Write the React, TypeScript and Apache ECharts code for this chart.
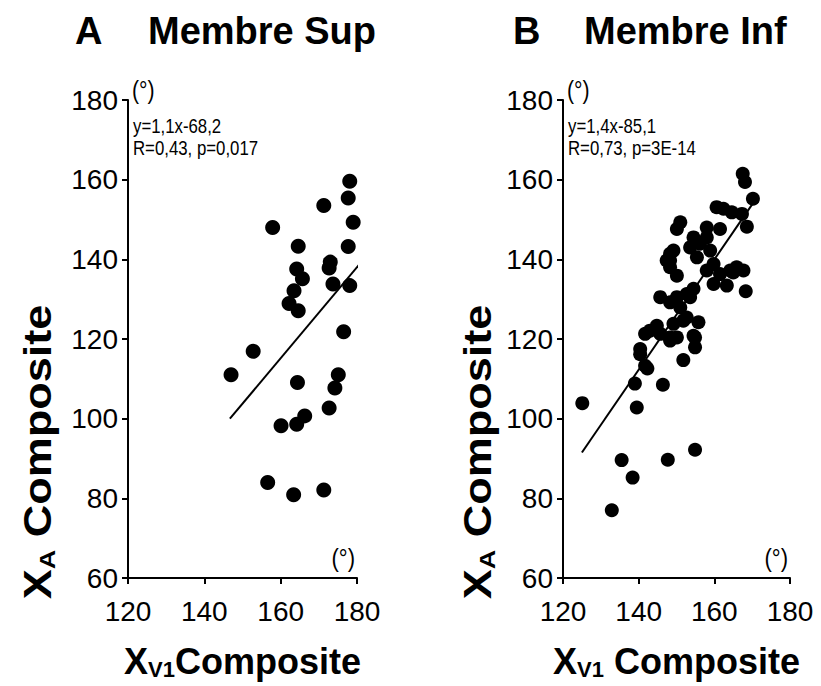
import React, { useEffect, useRef } from "react";
import * as echarts from "echarts";

// ---- data ----
const xTickValues = [120, 140, 160, 180];
const yTickValues = [60, 80, 100, 120, 140, 160, 180];

const supPoints: [number, number][] = [
  [147.0, 111.0], [152.8, 116.9], [156.6, 84.0], [163.4, 80.9], [171.3, 82.1],
  [160.1, 98.2], [164.2, 98.6], [166.3, 100.7], [172.7, 102.7], [174.2, 107.7],
  [175.1, 111.0], [164.4, 109.1], [178.1, 159.6], [177.7, 155.4], [171.3, 153.5],
  [179.0, 149.3], [157.9, 148.0], [164.6, 143.3], [177.7, 143.2], [173.0, 139.3],
  [172.7, 137.8], [164.2, 137.6], [165.7, 135.1], [173.7, 133.8], [178.1, 133.4],
  [163.5, 132.1], [162.2, 128.9], [164.6, 127.1], [176.5, 121.8],
];
const supFit: [number, number][] = [[146.7, 100.0], [182.0, 140.3]];

const infPoints: [number, number][] = [
  [125.1, 103.9], [135.5, 89.6], [138.4, 85.2], [132.9, 77.0], [147.7, 89.7],
  [154.9, 92.2], [139.5, 102.8], [139.0, 108.8], [146.4, 108.5], [140.4, 116.2],
  [141.7, 113.3], [142.3, 112.6], [151.8, 114.7], [154.9, 120.4], [154.9, 117.9],
  [148.3, 119.6], [141.7, 121.3],
  [167.5, 161.5], [168.1, 159.4], [170.2, 155.2], [162.4, 152.7], [164.6, 151.8],
  [167.3, 151.4], [160.6, 153.1], [168.6, 148.2], [151.0, 149.3], [150.1, 147.6],
  [158.0, 148.0], [161.5, 147.6], [154.5, 145.5], [156.2, 143.9], [153.6, 143.0],
  [149.2, 142.2], [158.9, 142.2], [155.4, 140.5], [148.3, 139.7], [159.8, 138.8],
  [150.1, 135.9], [164.2, 137.2], [167.7, 137.2], [161.5, 136.3], [159.8, 133.8],
  [163.3, 133.4], [168.3, 132.0], [154.5, 132.6], [152.7, 131.3], [145.7, 130.5],
  [148.3, 129.2], [150.1, 130.5], [151.0, 127.9], [143.0, 122.1], [145.7, 121.3],
  [149.2, 123.8], [151.8, 124.6], [155.8, 124.2], [150.1, 120.4], [154.5, 120.8],
  [140.4, 117.5], [148.3, 141.4], [147.4, 139.7], [158.0, 145.5], [165.9, 138.0],
  [165.0, 136.7], [158.0, 137.2], [148.3, 138.0], [153.6, 130.5], [152.7, 125.4],
  [144.8, 123.3], [148.3, 120.4],
];
const infFit: [number, number][] = [[125.0, 91.5], [170.5, 154.5]];

const panelTitles = ["A", "B"];
const panelNames = ["Membre Sup", "Membre Inf"];
const equations = ["y=1,1x-68,2", "y=1,4x-85,1"];
const stats = ["R=0,43, p=0,017", "R=0,73, p=3E-14"];
const unitLabel = "(°)";

const SANS = "'Liberation Sans', Arial, sans-serif";

const grids = [
  { left: 128, top: 100, width: 229, height: 478 },
  { left: 563, top: 100, width: 227, height: 478 },
];

function axisCommon() {
  return {
    axisLine: { show: true, lineStyle: { color: "#000", width: 2 } },
    axisTick: { show: true, length: 6, lineStyle: { color: "#000", width: 2 } },
    splitLine: { show: false },
  };
}

export default function App() {
  const ref = useRef<HTMLDivElement>(null);
  useEffect(() => {
    if (!ref.current) return;
    const chart = echarts.init(ref.current, null, { renderer: "svg" });

    const xNames = [
      "{b|X}{s|V1}{b|Composite}",
      "{b|X}{s|V1}{b| Composite}",
    ];
    const nameRich = {
      b: { fontSize: 36, fontWeight: "bold", fontFamily: SANS, color: "#000" },
      s: { fontSize: 22, fontWeight: "bold", fontFamily: SANS, color: "#000", padding: [16, 0, 0, 0] },
    };

    const xAxes = grids.map((_, i) => ({
      type: "value",
      gridIndex: i,
      min: 120,
      max: 180,
      interval: 20,
      ...axisCommon(),
      axisLabel: {
        fontSize: 28,
        fontFamily: SANS,
        color: "#000",
        margin: 19,
        customValues: xTickValues,
      },
      name: xNames[i],
      nameLocation: "middle",
      nameGap: 64,
      nameTextStyle: { rich: nameRich },
    }));

    const yAxes = grids.map((_, i) => ({
      type: "value",
      gridIndex: i,
      min: 60,
      max: 180,
      interval: 20,
      ...axisCommon(),
      axisLabel: {
        fontSize: 28,
        fontFamily: SANS,
        color: "#000",
        margin: 10,
        customValues: yTickValues,
      },
    }));

    const graphics: any[] = [];
    const titleX = [[75, 148], [513, 584]];
    const yNameX = [38, 478];
    grids.forEach((g, i) => {
      graphics.push({
        type: "text",
        left: titleX[i][0],
        top: 12,
        style: { text: panelTitles[i], font: `bold 38px ${SANS}`, fill: "#000" },
      });
      graphics.push({
        type: "text",
        left: titleX[i][1],
        top: 12,
        style: { text: panelNames[i], font: `bold 38px ${SANS}`, fill: "#000" },
      });
      graphics.push({
        type: "text",
        x: g.left + 4,
        y: 90,
        scaleX: 0.85,
        style: { text: unitLabel, font: `25px ${SANS}`, fill: "#000", align: "left", verticalAlign: "middle" },
      });
      graphics.push({
        type: "text",
        x: g.left + g.width - 2,
        y: 558,
        scaleX: 0.85,
        style: { text: unitLabel, font: `26px ${SANS}`, fill: "#000", align: "right", verticalAlign: "middle" },
      });
      graphics.push({
        type: "text",
        x: g.left + 5,
        y: 126,
        scaleX: 0.8,
        style: { text: equations[i], font: `21px ${SANS}`, fill: "#000", align: "left", verticalAlign: "middle" },
      });
      graphics.push({
        type: "text",
        x: g.left + 5,
        y: 148,
        scaleX: 0.8,
        style: { text: stats[i], font: `21px ${SANS}`, fill: "#000", align: "left", verticalAlign: "middle" },
      });
      graphics.push({
        type: "text",
        x: yNameX[i],
        y: 452,
        rotation: Math.PI / 2,
        scaleY: 0.85,
        style: {
          text: "{b|X}{s|A}{b| Composite}",
          rich: {
            b: { fontSize: 45, fontWeight: "bold", fontFamily: SANS, fill: "#000" },
            s: { fontSize: 27, fontWeight: "bold", fontFamily: SANS, fill: "#000", padding: [20, 0, 0, 0] },
          },
          align: "center",
          verticalAlign: "middle",
        },
      });
    });

    const scatterStyle = { color: "#000", opacity: 1 };
    chart.setOption({
      animation: false,
      backgroundColor: "#fff",
      grid: grids.map((g) => ({ ...g, containLabel: false })),
      xAxis: xAxes,
      yAxis: yAxes,
      series: [
        {
          type: "scatter",
          xAxisIndex: 0,
          yAxisIndex: 0,
          data: supPoints,
          symbolSize: 15,
          itemStyle: scatterStyle,
        },
        {
          type: "line",
          xAxisIndex: 0,
          yAxisIndex: 0,
          data: supFit,
          showSymbol: false,
          clip: false,
          lineStyle: { color: "#000", width: 2 },
        },
        {
          type: "scatter",
          xAxisIndex: 1,
          yAxisIndex: 1,
          data: infPoints,
          symbolSize: 14,
          itemStyle: scatterStyle,
        },
        {
          type: "line",
          xAxisIndex: 1,
          yAxisIndex: 1,
          data: infFit,
          showSymbol: false,
          clip: false,
          lineStyle: { color: "#000", width: 2 },
        },
      ],
      graphic: graphics,
    });
    return () => chart.dispose();
  }, []);
  return (
    <div
      ref={ref}
      style={{ position: "absolute", left: 0, top: 0, width: 821, height: 686 }}
    />
  );
}
